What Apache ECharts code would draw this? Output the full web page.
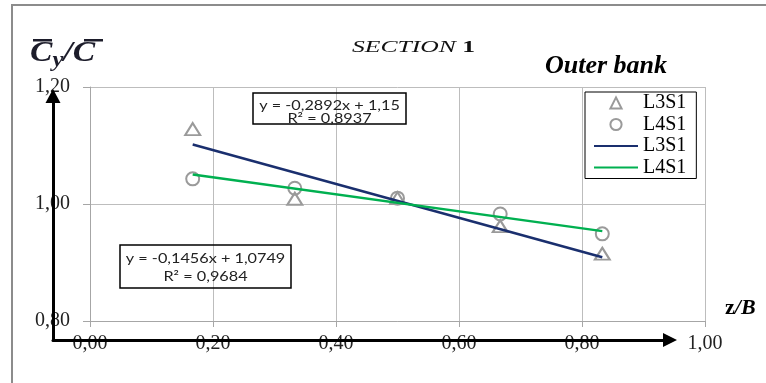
<!DOCTYPE html>
<html>
<head>
<meta charset="utf-8">
<title>SECTION 1 - Outer bank</title>
<script src="https://cdn.jsdelivr.net/npm/echarts@6/dist/echarts.min.js"></script>
<style>
  html, body { margin: 0; padding: 0; background: #fff; }
  #chart { width: 766px; height: 383px; }
</style>
</head>
<body>
<div id="chart"></div>
<script>
// Relative position across the channel (z/B)
const zB = [0.167, 0.333, 0.500, 0.667, 0.833];
// Normalised concentration Cy/C for the two runs
const l3s1 = [1.128, 1.009, 1.010, 0.962, 0.915];
const l4s1 = [1.043, 1.027, 1.010, 0.983, 0.949];
// Linear trend lines (slope, intercept, R²)
const l3s1Fit = { slope: -0.2892, intercept: 1.15, r2: 0.8937 };
const l4s1Fit = { slope: -0.1456, intercept: 1.0749, r2: 0.9684 };
// Axis ranges
const xRange = [0, 1.0, 0.2];
const yRange = [0.8, 1.2, 0.2];

const SERIF = '"Liberation Serif", "Times New Roman", serif';
const SANS = 'Lato, "Liberation Sans", sans-serif';
const GRID_GREY = '#bdbdbd';
const MARKER_GREY = '#9a9a9a';
const NAVY = '#1a2f6e';
const GREEN = '#00b050';

const comma = (v) => String(v).replace('.', ',');
const tick = (v) => v.toFixed(2).replace('.', ',');
const eqText = (f) =>
  'y = ' + comma(f.slope) + 'x + ' + comma(f.intercept) + '\nR² = ' + comma(f.r2);
const fitLine = (f) => {
  const x0 = zB[0], x1 = zB[zB.length - 1];
  return [[x0, f.intercept + f.slope * x0], [x1, f.intercept + f.slope * x1]];
};
const pairs = (ys) => zB.map((x, i) => [x, ys[i]]);

const chart = echarts.init(document.getElementById('chart'), null, { renderer: 'canvas' });

const hiddenDot = { color: 'rgba(0,0,0,0)', borderColor: 'rgba(0,0,0,0)', borderWidth: 0 };
const hollowMarker = { color: 'rgba(0,0,0,0)', borderColor: MARKER_GREY, borderWidth: 2 };

// measured points: symbols only, no connecting line
const markerSeries = (name, symbol, size, values) => ({
  name, type: 'line', xAxisIndex: 0, yAxisIndex: 0,
  symbol, symbolSize: size, showSymbol: true,
  lineStyle: { width: 0, opacity: 0 },
  itemStyle: hollowMarker,
  data: pairs(values),
  z: 2
});

const option = {
  backgroundColor: '#fff',
  animation: false,
  grid: [
    { left: 90, right: 61, top: 87, bottom: 62 },
    // frame for the black arrowed axes
    { left: 53, right: 96, top: 96, bottom: 43 }
  ],
  xAxis: [
    {
      type: 'value', gridIndex: 0,
      min: xRange[0], max: xRange[1], interval: xRange[2],
      axisLine: { show: true, onZero: false, lineStyle: { color: '#a6a6a6', width: 1 } },
      axisTick: { show: true, length: 6, lineStyle: { color: '#a6a6a6' } },
      splitLine: { show: true, lineStyle: { color: GRID_GREY, width: 1 } },
      axisLabel: {
        formatter: tick, margin: 13,
        fontFamily: SERIF, fontSize: 20, color: '#222'
      }
    },
    {
      type: 'value', gridIndex: 1, min: 0, max: 1,
      axisLine: {
        show: true, onZero: false,
        symbol: ['none', 'triangle'], symbolSize: [14, 14],
        lineStyle: { color: '#000', width: 3 }
      },
      axisTick: { show: false }, axisLabel: { show: false }, splitLine: { show: false },
      z: 10
    }
  ],
  yAxis: [
    {
      type: 'value', gridIndex: 0,
      min: yRange[0], max: yRange[1], interval: yRange[2],
      axisLine: { show: true, onZero: false, lineStyle: { color: '#a6a6a6', width: 1 } },
      axisTick: { show: true, length: 7, lineStyle: { color: '#a6a6a6' } },
      splitLine: { show: true, lineStyle: { color: GRID_GREY, width: 1 } },
      axisLabel: {
        formatter: tick, margin: 20,
        fontFamily: SERIF, fontSize: 20, color: '#222'
      }
    },
    {
      type: 'value', gridIndex: 1, min: 0, max: 1,
      axisLine: {
        show: true, onZero: false,
        symbol: ['none', 'triangle'], symbolSize: [15, 14],
        lineStyle: { color: '#000', width: 3 }
      },
      axisTick: { show: false }, axisLabel: { show: false }, splitLine: { show: false },
      z: 10
    }
  ],
  legend: {
    data: [
      { name: 'L3S1' },
      { name: 'L4S1' },
      { name: 'L3S1 fit', itemStyle: hiddenDot },
      { name: 'L4S1 fit', itemStyle: hiddenDot }
    ],
    formatter: (name) => name.split(' ')[0],
    orient: 'vertical',
    left: 585, top: 92,
    itemWidth: 44, itemHeight: 14, itemGap: 1.5,
    padding: [1, 10, 1, 8],
    borderColor: '#000', borderWidth: 1, borderRadius: 0,
    backgroundColor: '#fff',
    selectedMode: false,
    textStyle: { fontFamily: SERIF, fontSize: 20, color: '#000' }
  },
  series: [
    markerSeries('L3S1', 'triangle', [15, 12], l3s1),
    markerSeries('L4S1', 'circle', 13, l4s1),
    {
      name: 'L3S1 fit', type: 'line', xAxisIndex: 0, yAxisIndex: 0,
      symbol: 'none', showSymbol: false,
      lineStyle: { color: NAVY, width: 2.5 },
      itemStyle: { color: NAVY },
      data: fitLine(l3s1Fit),
      z: 3
    },
    {
      name: 'L4S1 fit', type: 'line', xAxisIndex: 0, yAxisIndex: 0,
      symbol: 'none', showSymbol: false,
      lineStyle: { color: GREEN, width: 2.5 },
      itemStyle: { color: GREEN },
      data: fitLine(l4s1Fit),
      z: 3
    }
  ],
  graphic: [
    // outer chart frame
    {
      type: 'rect', silent: true, z: -10,
      shape: { x: 12, y: 5, width: 800, height: 420 },
      style: { fill: 'none', stroke: '#8c8c8c', lineWidth: 2 }
    },
    // y-axis quantity: mean Cy over mean C
    {
      type: 'text', silent: true, x: 30, y: 53, scaleX: 1.12,
      style: {
        text: '{c|C}{s|y}{c|/C}',
        textVerticalAlign: 'middle',
        rich: {
          c: { fontFamily: SERIF, fontWeight: 'bold', fontStyle: 'italic', fontSize: 30, fill: '#1c1c2a' },
          s: { fontFamily: SERIF, fontWeight: 'bold', fontStyle: 'italic', fontSize: 22, fill: '#1c1c2a', padding: [14, 0, 0, 0] }
        }
      }
    },
    { type: 'rect', silent: true, shape: { x: 33, y: 39, width: 19, height: 2.5 }, style: { fill: '#1c1c2a' } },
    { type: 'rect', silent: true, shape: { x: 84, y: 39, width: 19, height: 2.5 }, style: { fill: '#1c1c2a' } },
    // section title
    {
      type: 'text', silent: true, x: 352, y: 48, scaleX: 1.6,
      style: {
        text: '{i|SECTION}{n| 1}',
        textVerticalAlign: 'middle',
        rich: {
          i: { fontFamily: SERIF, fontStyle: 'italic', fontSize: 16, fill: '#111' },
          n: { fontFamily: SERIF, fontWeight: 'bold', fontSize: 16, fill: '#111' }
        }
      }
    },
    // bank label
    {
      type: 'text', silent: true, x: 545, y: 66,
      style: {
        text: 'Outer bank', textVerticalAlign: 'middle',
        font: 'italic bold 26px ' + SERIF, fill: '#000'
      }
    },
    // x-axis quantity
    {
      type: 'text', silent: true, x: 725, y: 308,
      style: {
        text: '{z|z}{b|/B}', textVerticalAlign: 'middle',
        rich: {
          z: { fontFamily: SERIF, fontWeight: 'bold', fontSize: 22, fill: '#000' },
          b: { fontFamily: SERIF, fontWeight: 'bold', fontStyle: 'italic', fontSize: 22, fill: '#000' }
        }
      }
    },
    // trend line equations
    {
      type: 'rect', silent: true, z: 20,
      shape: { x: 253, y: 93, width: 153, height: 31 },
      style: { fill: 'none', stroke: '#000', lineWidth: 1.5 }
    },
    {
      type: 'text', silent: true, z: 20, x: 329.5, y: 112, scaleX: 1.16,
      style: {
        text: eqText(l3s1Fit), textAlign: 'center', textVerticalAlign: 'middle',
        fontFamily: SANS, fontSize: 14, lineHeight: 12.5, fill: '#222'
      }
    },
    {
      type: 'rect', silent: true, z: 20,
      shape: { x: 120, y: 245, width: 171, height: 43 },
      style: { fill: 'none', stroke: '#000', lineWidth: 1.5 }
    },
    {
      type: 'text', silent: true, z: 20, x: 205.5, y: 267, scaleX: 1.16,
      style: {
        text: eqText(l4s1Fit), textAlign: 'center', textVerticalAlign: 'middle',
        fontFamily: SANS, fontSize: 14, lineHeight: 18, fill: '#222'
      }
    }
  ]
};

chart.setOption(option);
</script>
</body>
</html>
